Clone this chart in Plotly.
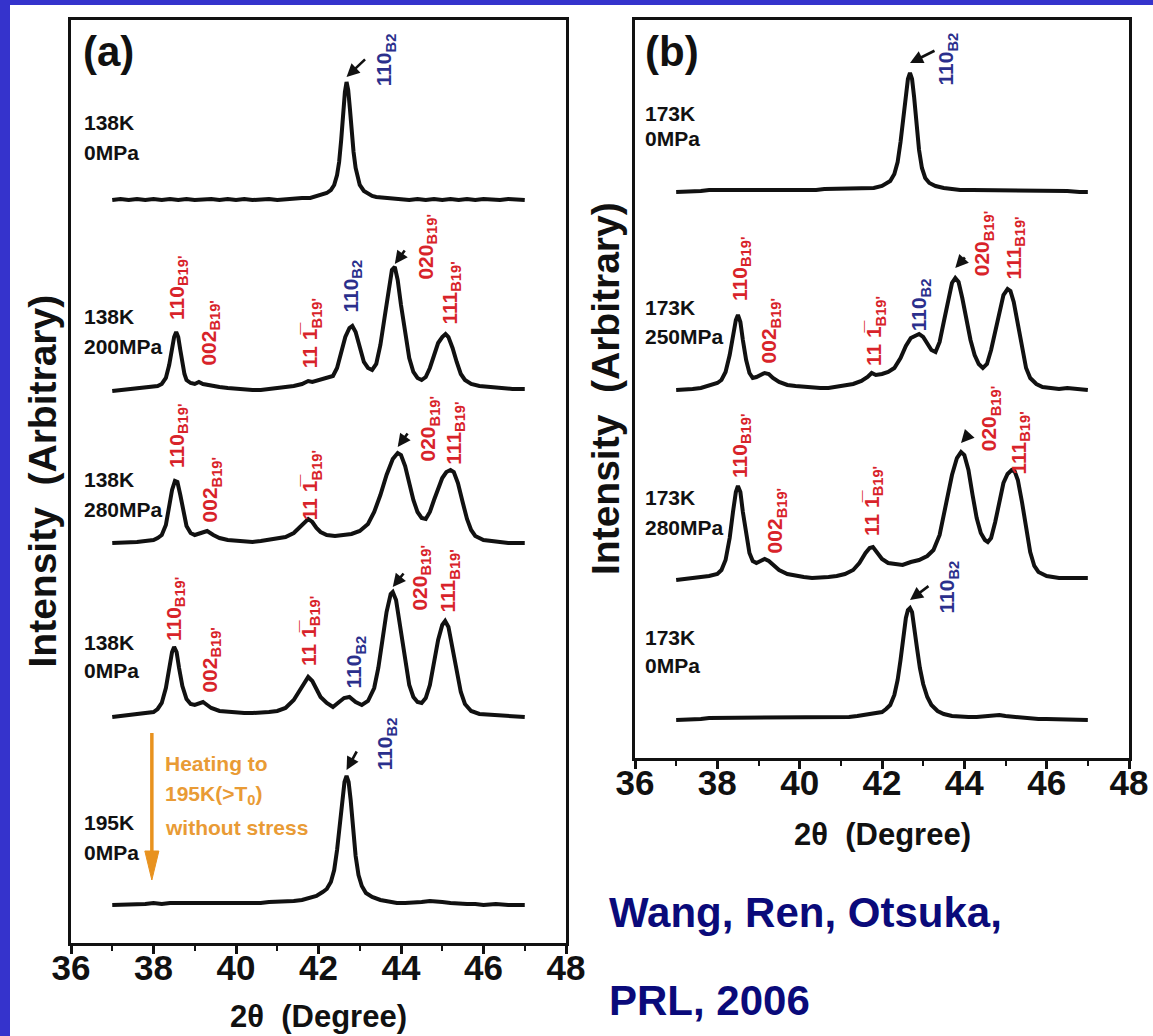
import plotly.graph_objects as go

W, H = 1153, 1036
FONT = "Liberation Sans, Arial, Helvetica, sans-serif"
INK = "#111111"
RED = "#D8232A"
BLUE = "#2B2F8C"
ORANGE_TXT = "#E99B35"
ORANGE = "#E8921F"
NAVY = "#0A0A7A"
FRAME_BLUE = "#3533CC"

# ---------------- panel (a): 2θ (deg), intensity (arb. units) ----------------
a_138K_0MPa = [
    (37.0, 0), (37.2, 1), (37.4, 0), (37.6, 1), (37.8, 0), (38.0, 1), (38.2, 0), (38.4, 1),
    (38.6, 0), (38.8, 1), (39.0, 0), (39.2, 1), (39.4, 1), (39.6, 0), (39.8, 1), (40.0, 0),
    (40.2, 1), (40.4, 0), (40.6, 1), (40.8, 1), (41.0, 0), (41.2, 1), (41.4, 1), (41.6, 2),
    (41.8, 2), (41.9, 3), (42.0, 4), (42.1, 5), (42.2, 7), (42.3, 10), (42.38, 15), (42.45, 25),
    (42.5, 38), (42.55, 60), (42.6, 88), (42.64, 108), (42.68, 118), (42.72, 110), (42.76, 92),
    (42.8, 70), (42.85, 48), (42.9, 32), (42.95, 22), (43.0, 15), (43.1, 9), (43.2, 6), (43.3, 4),
    (43.4, 3), (43.6, 2), (43.8, 1), (44.0, 1), (44.2, 0), (44.4, 1), (44.6, 0), (44.8, 1),
    (45.0, 0), (45.2, 1), (45.4, 0), (45.6, 1), (45.8, 0), (46.0, 1), (46.2, 0), (46.4, 0),
    (46.6, 1), (46.8, 0), (47.0, 0),
]
a_138K_200MPa = [
    (37.0, 0), (37.2, 1), (37.4, 2), (37.6, 2), (37.8, 3), (38.0, 4), (38.1, 5), (38.2, 7),
    (38.3, 13), (38.38, 26), (38.45, 43), (38.5, 54), (38.55, 59), (38.6, 54), (38.65, 41),
    (38.7, 27), (38.75, 17), (38.8, 11), (38.9, 8), (39.0, 7), (39.1, 9), (39.2, 7), (39.3, 6),
    (39.4, 5), (39.6, 4), (39.8, 3), (40.0, 2), (40.2, 2), (40.4, 1), (40.6, 1), (40.8, 2),
    (41.0, 2), (41.2, 3), (41.4, 5), (41.6, 7), (41.75, 10), (41.85, 9), (42.0, 11), (42.2, 13),
    (42.35, 15), (42.45, 23), (42.55, 39), (42.65, 54), (42.75, 63), (42.82, 65), (42.9, 59),
    (43.0, 43), (43.1, 29), (43.2, 23), (43.3, 21), (43.4, 27), (43.5, 46), (43.6, 73),
    (43.7, 103), (43.78, 121), (43.85, 124), (43.92, 111), (44.0, 86), (44.1, 56), (44.2, 33),
    (44.3, 19), (44.4, 13), (44.5, 11), (44.6, 14), (44.7, 23), (44.8, 36), (44.9, 48),
    (45.0, 54), (45.08, 57), (45.15, 54), (45.25, 43), (45.35, 29), (45.45, 17), (45.55, 11),
    (45.7, 7), (45.9, 5), (46.1, 4), (46.4, 3), (46.7, 2), (47.0, 2),
]
a_138K_280MPa = [
    (37.0, 2), (37.2, 2), (37.4, 3), (37.6, 3), (37.8, 4), (38.0, 5), (38.1, 7), (38.2, 10),
    (38.3, 20), (38.38, 37), (38.45, 55), (38.52, 64), (38.58, 63), (38.65, 50), (38.72, 33),
    (38.8, 19), (38.9, 12), (39.0, 10), (39.15, 12), (39.3, 14), (39.45, 10), (39.6, 7),
    (39.8, 5), (40.0, 4), (40.2, 3), (40.4, 3), (40.6, 4), (40.8, 5), (41.0, 6), (41.2, 8),
    (41.4, 12), (41.55, 18), (41.68, 24), (41.75, 26), (41.85, 23), (41.95, 17), (42.05, 13),
    (42.2, 10), (42.4, 9), (42.6, 10), (42.8, 11), (43.0, 14), (43.2, 21), (43.35, 33),
    (43.5, 50), (43.65, 70), (43.8, 86), (43.92, 92), (44.0, 90), (44.1, 79), (44.2, 62),
    (44.3, 45), (44.4, 33), (44.5, 27), (44.6, 26), (44.7, 33), (44.8, 45), (44.9, 57),
    (45.0, 67), (45.1, 73), (45.2, 75), (45.28, 73), (45.38, 62), (45.5, 42), (45.6, 26),
    (45.7, 15), (45.8, 9), (46.0, 5), (46.3, 3), (46.6, 2), (47.0, 2),
]
a_138K_0MPa_after = [
    (37.0, 1), (37.2, 2), (37.4, 2), (37.6, 3), (37.8, 4), (38.0, 6), (38.1, 9), (38.2, 15),
    (38.3, 30), (38.38, 50), (38.45, 66), (38.5, 71), (38.56, 66), (38.62, 50), (38.7, 32),
    (38.8, 19), (38.9, 14), (39.0, 13), (39.1, 15), (39.2, 16), (39.3, 13), (39.4, 10),
    (39.6, 7), (39.8, 6), (40.0, 5), (40.2, 5), (40.4, 5), (40.6, 5), (40.8, 6), (41.0, 7),
    (41.2, 10), (41.4, 18), (41.55, 28), (41.68, 38), (41.75, 41), (41.85, 37), (41.95, 28),
    (42.05, 21), (42.2, 15), (42.35, 11), (42.5, 16), (42.62, 20), (42.75, 21), (42.9, 16),
    (43.05, 13), (43.2, 17), (43.35, 30), (43.45, 50), (43.55, 78), (43.65, 106), (43.75, 124),
    (43.8, 126), (43.88, 118), (43.98, 93), (44.1, 58), (44.2, 33), (44.3, 21), (44.4, 16),
    (44.5, 15), (44.6, 20), (44.7, 33), (44.8, 55), (44.9, 78), (45.0, 93), (45.07, 97),
    (45.15, 91), (45.25, 70), (45.35, 46), (45.45, 26), (45.55, 14), (45.7, 7), (45.9, 4),
    (46.2, 3), (46.5, 2), (46.8, 2), (47.0, 1),
]
a_195K_0MPa = [
    (37.0, 1), (37.2, 1), (37.4, 2), (37.6, 1), (37.8, 2), (38.0, 3), (38.2, 2), (38.4, 3),
    (38.6, 3), (38.8, 2), (39.0, 2), (39.2, 3), (39.4, 3), (39.6, 2), (39.8, 3), (40.0, 3),
    (40.2, 2), (40.4, 3), (40.6, 3), (40.8, 4), (41.0, 4), (41.2, 4), (41.4, 5), (41.6, 6),
    (41.8, 8), (41.95, 10), (42.1, 14), (42.2, 17), (42.3, 24), (42.38, 36), (42.45, 56),
    (42.52, 83), (42.58, 108), (42.63, 124), (42.68, 130), (42.73, 124), (42.78, 106),
    (42.84, 76), (42.9, 50), (42.97, 31), (43.05, 20), (43.15, 13), (43.3, 9), (43.5, 6),
    (43.7, 4), (43.9, 3), (44.1, 3), (44.3, 3), (44.5, 4), (44.7, 5), (44.85, 5), (45.0, 4),
    (45.2, 3), (45.4, 2), (45.6, 2), (45.8, 2), (46.0, 1), (46.3, 2), (46.6, 1), (47.0, 1),
]

# ---------------- panel (b): 2θ (deg), intensity (arb. units) ----------------
b_173K_0MPa = [
    (37.0, 1), (37.2, 1), (37.4, 2), (37.6, 2), (37.8, 3), (38.0, 3), (38.2, 3), (38.4, 3),
    (38.6, 2), (38.8, 3), (39.0, 3), (39.2, 3), (39.4, 2), (39.6, 3), (39.8, 3), (40.0, 3),
    (40.2, 3), (40.4, 3), (40.6, 4), (40.8, 4), (41.0, 4), (41.2, 4), (41.4, 4), (41.6, 5),
    (41.8, 5), (42.0, 7), (42.1, 9), (42.2, 12), (42.3, 19), (42.38, 31), (42.45, 51),
    (42.52, 76), (42.58, 99), (42.63, 114), (42.68, 120), (42.73, 114), (42.78, 96),
    (42.84, 68), (42.9, 43), (42.97, 25), (43.05, 15), (43.15, 10), (43.3, 7), (43.5, 5),
    (43.7, 4), (43.9, 3), (44.2, 3), (44.5, 3), (44.8, 3), (45.0, 3), (45.3, 3), (45.6, 2),
    (45.9, 2), (46.2, 2), (46.5, 2), (46.8, 1), (47.0, 1),
]
b_173K_250MPa = [
    (37.0, 1), (37.2, 1), (37.4, 2), (37.6, 3), (37.8, 5), (38.0, 8), (38.1, 11), (38.2, 19),
    (38.3, 36), (38.38, 56), (38.45, 71), (38.5, 76), (38.56, 69), (38.62, 51), (38.7, 31),
    (38.78, 18), (38.86, 13), (38.95, 14), (39.05, 16), (39.15, 18), (39.25, 17), (39.35, 13),
    (39.5, 9), (39.7, 6), (39.9, 5), (40.1, 4), (40.3, 3), (40.5, 3), (40.7, 3), (40.9, 4),
    (41.1, 5), (41.3, 7), (41.5, 10), (41.65, 14), (41.75, 18), (41.85, 16), (42.0, 17),
    (42.15, 19), (42.3, 23), (42.45, 33), (42.58, 45), (42.7, 53), (42.8, 55), (42.9, 57),
    (43.0, 54), (43.1, 47), (43.2, 41), (43.3, 39), (43.4, 49), (43.5, 69), (43.6, 91),
    (43.7, 108), (43.78, 113), (43.86, 109), (43.95, 93), (44.05, 71), (44.15, 51), (44.25, 36),
    (44.35, 27), (44.45, 23), (44.55, 27), (44.65, 41), (44.75, 61), (44.85, 81), (44.95, 96),
    (45.05, 102), (45.12, 100), (45.2, 89), (45.3, 66), (45.4, 41), (45.5, 23), (45.6, 13),
    (45.75, 7), (45.9, 4), (46.1, 3), (46.3, 2), (46.5, 3), (46.7, 2), (47.0, 1),
]
b_173K_280MPa = [
    (37.0, 0), (37.2, 1), (37.4, 1), (37.6, 2), (37.8, 4), (38.0, 6), (38.1, 10), (38.2, 20),
    (38.3, 42), (38.38, 68), (38.45, 88), (38.5, 94), (38.56, 88), (38.62, 68), (38.7, 44),
    (38.78, 27), (38.86, 19), (38.95, 17), (39.05, 19), (39.15, 21), (39.25, 19), (39.35, 15),
    (39.5, 10), (39.7, 6), (39.9, 4), (40.1, 3), (40.3, 2), (40.5, 2), (40.7, 3), (40.9, 4),
    (41.1, 6), (41.3, 10), (41.45, 17), (41.6, 27), (41.7, 32), (41.78, 33), (41.88, 28),
    (42.0, 21), (42.15, 17), (42.3, 16), (42.5, 15), (42.7, 18), (42.9, 20), (43.1, 24),
    (43.25, 30), (43.4, 45), (43.55, 75), (43.7, 105), (43.82, 122), (43.92, 128), (44.0, 125),
    (44.1, 110), (44.2, 85), (44.3, 62), (44.4, 47), (44.5, 40), (44.57, 38), (44.65, 42),
    (44.75, 58), (44.85, 80), (44.95, 97), (45.05, 106), (45.15, 110), (45.22, 109), (45.3, 100),
    (45.4, 78), (45.5, 50), (45.6, 28), (45.7, 14), (45.8, 8), (46.0, 4), (46.3, 2), (46.6, 2),
    (47.0, 2),
]
b_173K_0MPa_after = [
    (37.0, 1), (37.2, 1), (37.4, 2), (37.6, 2), (37.8, 3), (38.0, 3), (38.2, 3), (38.4, 4),
    (38.6, 4), (38.8, 3), (39.0, 3), (39.2, 3), (39.4, 3), (39.6, 3), (39.8, 4), (40.0, 3),
    (40.2, 3), (40.4, 3), (40.6, 4), (40.8, 4), (41.0, 4), (41.2, 4), (41.4, 5), (41.6, 6),
    (41.8, 7), (42.0, 9), (42.1, 12), (42.2, 16), (42.3, 26), (42.38, 41), (42.45, 61),
    (42.52, 84), (42.58, 103), (42.63, 111), (42.68, 113), (42.73, 109), (42.78, 96),
    (42.85, 73), (42.92, 53), (43.0, 37), (43.1, 24), (43.2, 16), (43.35, 10), (43.5, 7),
    (43.7, 5), (43.9, 4), (44.1, 4), (44.3, 4), (44.5, 5), (44.7, 5), (44.85, 6), (45.0, 5),
    (45.2, 4), (45.4, 3), (45.6, 3), (45.8, 2), (46.0, 2), (46.3, 2), (46.6, 1), (47.0, 1),
]

# stacking: patterns, vertical offsets, condition labels (top to bottom)
panel_a_patterns = [a_138K_0MPa, a_138K_200MPa, a_138K_280MPa, a_138K_0MPa_after, a_195K_0MPa]
panel_a_offsets = [743, 552, 398, 225, 37]
panel_a_conditions = [("138K", "0MPa"), ("138K", "200MPa"), ("138K", "280MPa"),
                      ("138K", "0MPa"), ("195K", "0MPa")]
panel_a_condition_y = [(820, 790), (626, 596), (463, 433), (301, 273), (121, 91)]

panel_b_patterns = [b_173K_0MPa, b_173K_250MPa, b_173K_280MPa, b_173K_0MPa_after]
panel_b_offsets = [565, 367, 178, 37]
panel_b_conditions = [("173K", "0MPa"), ("173K", "250MPa"), ("173K", "280MPa"), ("173K", "0MPa")]
panel_b_condition_y = [(644, 619), (450, 421), (260, 231), (121, 93)]

# reflection labels: (panel, 2θ, bottom of label, index, phase, colour)
OVER = "11 1\u0305"
reflections = [
    ("a", 43.56, 855, "110", "B2", BLUE),
    ("a", 38.52, 621, "110", "B19'", RED), ("a", 39.30, 575, "002", "B19'", RED),
    ("a", 41.75, 573, OVER, "B19'", RED), ("a", 42.74, 628, "110", "B2", BLUE),
    ("a", 44.56, 661, "020", "B19'", RED), ("a", 45.14, 616, "111", "B19'", RED),
    ("a", 38.52, 473, "110", "B19'", RED), ("a", 39.32, 419, "002", "B19'", RED),
    ("a", 41.75, 421, OVER, "B19'", RED), ("a", 44.63, 480, "020", "B19'", RED),
    ("a", 45.24, 476, "111", "B19'", RED),
    ("a", 38.45, 300, "110", "B19'", RED), ("a", 39.30, 248, "002", "B19'", RED),
    ("a", 41.72, 275, OVER, "B19'", RED), ("a", 42.81, 253, "110", "B2", BLUE),
    ("a", 44.39, 330, "020", "B19'", RED), ("a", 45.09, 329, "111", "B19'", RED),
    ("a", 43.56, 171, "110", "B2", BLUE),
    ("b", 43.53, 671, "110", "B2", BLUE),
    ("b", 38.50, 455, "110", "B19'", RED), ("b", 39.23, 393, "002", "B19'", RED),
    ("b", 41.76, 390, OVER, "B19'", RED), ("b", 42.87, 425, "110", "B2", BLUE),
    ("b", 44.40, 480, "020", "B19'", RED), ("b", 45.16, 476, "111", "B19'", RED),
    ("b", 38.50, 278, "110", "B19'", RED), ("b", 39.35, 203, "002", "B19'", RED),
    ("b", 41.71, 220, OVER, "B19'", RED), ("b", 44.57, 305, "020", "B19'", RED),
    ("b", 45.28, 281, "111", "B19'", RED),
    ("b", 43.53, 143, "110", "B2", BLUE),
]

# pointer arrows: (panel, pattern index, peak 2θ, gap above peak, tail dx, tail dy in px)
pointers = [
    ("a", 0, 42.68, 5, 20, -19), ("a", 1, 43.85, 3, 11, -15), ("a", 2, 43.92, 6, 11, -15),
    ("a", 3, 43.80, 5, 12, -15), ("a", 4, 42.68, 6, 11, -20),
    ("b", 0, 42.68, 10, 26, -13), ("b", 1, 43.78, 10, 11, -12), ("b", 2, 43.92, 9, 9, -10),
    ("b", 3, 42.68, 8, 20, -15),
]

# ---------------- layout geometry (pixels) ----------------
A_LEFT, A_RIGHT, A_TOP, A_BOTTOM = 71, 566, 20, 943
B_LEFT, B_RIGHT, B_TOP, B_BOTTOM = 635, 1129, 20, 758


def px_x(px):
    return px / W


def px_y(py):
    return 1 - py / H


fig = go.Figure()

panels = {
    "a": (panel_a_patterns, panel_a_offsets, "x", "y"),
    "b": (panel_b_patterns, panel_b_offsets, "x2", "y2"),
}
for key, (patterns, offsets, xa, ya) in panels.items():
    for pts, off in zip(patterns, offsets):
        xs = [p[0] for p in pts]
        ys = [p[1] + off for p in pts]
        fig.add_trace(go.Scatter(x=xs, y=ys, mode="lines", xaxis=xa, yaxis=ya,
                                 line=dict(color=INK, width=4), hoverinfo="skip",
                                 showlegend=False))

annotations = []

# reflection labels
for panel, x, y, idx, phase, col in reflections:
    xr, yr = ("x", "y") if panel == "a" else ("x2", "y2")
    annotations.append(dict(
        x=x, y=y, xref=xr, yref=yr, text=f"{idx}<sub>{phase}</sub>", textangle=-90,
        showarrow=False, xanchor="center", yanchor="bottom", xshift=3,
        font=dict(family=FONT, size=21, color=col, weight="bold")))

# pointer arrows at peak tops
for panel, i, xpk, gap, dx, dy in pointers:
    patterns, offsets, xr, yr = panels[panel]
    pts = patterns[i]
    top = max(v for (xx, v) in pts if abs(xx - xpk) <= 0.08)
    annotations.append(dict(
        x=xpk, y=top + offsets[i] + gap, xref=xr, yref=yr, text="", showarrow=True,
        ax=dx, ay=dy, arrowhead=2, arrowsize=1.0, arrowwidth=2.6, arrowcolor=INK,
        standoff=0))

# measurement conditions
for panel, conds, ys, x0 in (("a", panel_a_conditions, panel_a_condition_y, 36.27),
                             ("b", panel_b_conditions, panel_b_condition_y, 36.19)):
    xr, yr = ("x", "y") if panel == "a" else ("x2", "y2")
    for (t1, t2), (y1, y2) in zip(conds, ys):
        for t, yy in ((t1, y1), (t2, y2)):
            annotations.append(dict(
                x=x0, y=yy, xref=xr, yref=yr, text=t, showarrow=False,
                xanchor="left", yanchor="middle",
                font=dict(family=FONT, size=21, color=INK, weight="bold")))

# heating note in panel (a)
for t, yy in (("Heating to", 180), ("195K(>T<sub>0</sub>)", 148), ("without stress", 116)):
    annotations.append(dict(
        x=38.23, y=yy, xref="x", yref="y", text=t, showarrow=False,
        xanchor="left", yanchor="middle",
        font=dict(family=FONT, size=21, color=ORANGE_TXT, weight="bold")))

# panel tags
annotations.append(dict(x=36.9, y=891, xref="x", yref="y", text="(a)", showarrow=False,
                        xanchor="center", yanchor="middle",
                        font=dict(family=FONT, size=42, color=INK, weight="bold")))
annotations.append(dict(x=36.9, y=706, xref="x2", yref="y2", text="(b)", showarrow=False,
                        xanchor="center", yanchor="middle",
                        font=dict(family=FONT, size=42, color=INK, weight="bold")))

# axis titles
YTITLE = "Intensity\u00a0\u00a0(Arbitrary)"
XTITLE = "2\u03b8\u00a0\u00a0(Degree)"
for xp, yp in ((42, (A_TOP + A_BOTTOM) / 2), (605, (B_TOP + B_BOTTOM) / 2)):
    annotations.append(dict(x=px_x(xp), y=px_y(yp), xref="paper", yref="paper", text=YTITLE,
                            textangle=-90, showarrow=False, xanchor="center", yanchor="middle",
                            font=dict(family=FONT, size=39, color=INK, weight="bold")))
for xp, yp in (((A_LEFT + A_RIGHT) / 2, 1016), ((B_LEFT + B_RIGHT) / 2, 834)):
    annotations.append(dict(x=px_x(xp), y=px_y(yp), xref="paper", yref="paper", text=XTITLE,
                            showarrow=False, xanchor="center", yanchor="middle",
                            font=dict(family=FONT, size=31, color=INK, weight="bold")))

# citation
for t, yp in (("Wang, Ren, Otsuka,", 912), ("PRL, 2006", 1000)):
    annotations.append(dict(x=px_x(607), y=px_y(yp), xref="paper", yref="paper", text=t,
                            showarrow=False, xanchor="left", yanchor="middle",
                            font=dict(family=FONT, size=42, color=NAVY, weight="bold")))

shapes = [
    # heating arrow (shaft + head) in panel (a)
    dict(type="line", xref="x", yref="y", x0=37.96, x1=37.96, y0=210, y1=90,
         line=dict(color=ORANGE, width=3.5)),
    dict(type="path", xref="x", yref="y", path="M 37.79,92 L 38.13,92 L 37.96,63 Z",
         fillcolor=ORANGE, line=dict(color=ORANGE, width=1)),
    # slide border
    dict(type="rect", xref="paper", yref="paper", x0=0, x1=px_x(10), y0=0, y1=1,
         fillcolor=FRAME_BLUE, line=dict(width=0), layer="above"),
    dict(type="rect", xref="paper", yref="paper", x0=0, x1=1, y0=px_y(5), y1=1,
         fillcolor=FRAME_BLUE, line=dict(width=0), layer="above"),
]


def x_axis(left, right):
    return dict(
        domain=[px_x(left), px_x(right)], range=[36, 48], tick0=36, dtick=2,
        ticks="outside", ticklen=8, tickwidth=2.5, tickcolor=INK,
        ticklabelstandoff=-16,
        showline=True, linewidth=3, linecolor=INK, mirror=True,
        showgrid=False, zeroline=False, fixedrange=True, automargin=False,
        tickfont=dict(family=FONT, size=35, color=INK, weight="bold"),
        minor=dict(dtick=1, tick0=36, ticks="outside", ticklen=5, tickwidth=2,
                   tickcolor=INK, showgrid=False),
    )


def y_axis(top, bottom, anchor):
    return dict(
        domain=[px_y(bottom), px_y(top)], range=[0, bottom - top], anchor=anchor,
        showline=True, linewidth=3, linecolor=INK, mirror=True, automargin=False,
        showticklabels=False, ticks="", showgrid=False, zeroline=False, fixedrange=True,
    )


xa = x_axis(A_LEFT, A_RIGHT)
xa["anchor"] = "y"
xb = x_axis(B_LEFT, B_RIGHT)
xb["anchor"] = "y2"

fig.update_layout(
    width=W, height=H, autosize=False,
    margin=dict(l=0, r=0, t=0, b=0, pad=0, autoexpand=False),
    paper_bgcolor="white", plot_bgcolor="white", showlegend=False,
    xaxis=xa, yaxis=y_axis(A_TOP, A_BOTTOM, "x"),
    xaxis2=xb, yaxis2=y_axis(B_TOP, B_BOTTOM, "x2"),
    annotations=annotations, shapes=shapes,
)

fig.write_html("out.html")
